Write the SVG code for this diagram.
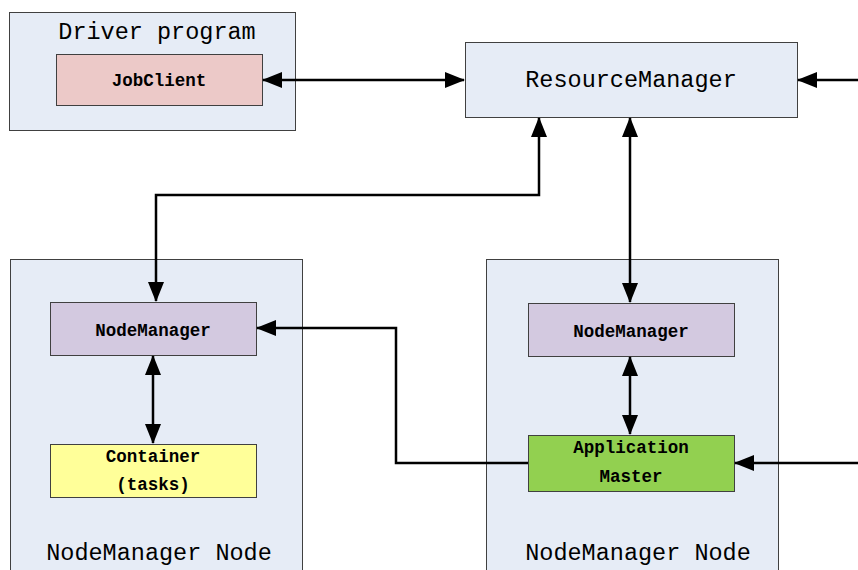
<svg xmlns="http://www.w3.org/2000/svg" width="858" height="570" viewBox="0 0 858 570">
<style>
.box{stroke:#404040;stroke-width:1}
.outer{fill:#e6ecf6}
.t{font-family:"Liberation Mono","Courier New",Courier,"Nimbus Mono PS",monospace;fill:#000;text-anchor:middle}
.big{font-size:23.5px}
.small{font-size:17.5px;font-weight:bold}
.c{fill:none;stroke:#000;stroke-width:2.5}
</style>
<defs>
<marker id="ah" viewBox="0 0 20 16" refX="19" refY="8" markerWidth="20" markerHeight="16" markerUnits="userSpaceOnUse" orient="auto-start-reverse">
<path d="M0,0 L20,8 L0,16 Z" fill="#000"/>
</marker>
</defs>
<rect width="858" height="570" fill="#fff"/>
<g id="driver">
<rect class="box outer" x="9.5" y="12.5" width="286" height="118"/>
<text class="t big" x="157" y="39">Driver program</text>
</g>
<g id="jobclient">
<rect class="box" fill="#ecc9c8" x="56.5" y="54.5" width="206" height="51"/>
<text class="t small" x="159" y="86">JobClient</text>
</g>
<g id="resourcemanager">
<rect class="box outer" x="465.5" y="42.5" width="332" height="75"/>
<text class="t big" x="631" y="87">ResourceManager</text>
</g>
<g id="nmnode-left">
<rect class="box outer" x="10.5" y="259.5" width="292" height="320"/>
<text class="t big" x="159" y="560">NodeManager Node</text>
</g>
<g id="nmnode-right">
<rect class="box outer" x="486.5" y="259.5" width="292" height="320"/>
<text class="t big" x="638" y="560">NodeManager Node</text>
</g>
<g id="nodemanager-left">
<rect class="box" fill="#d3c9e0" x="50.5" y="302.5" width="206" height="53"/>
<text class="t small" x="153" y="336">NodeManager</text>
</g>
<g id="container">
<rect class="box" fill="#ffff99" x="50.5" y="444.5" width="206" height="53"/>
<text class="t small" x="153" y="462">Container</text>
<text class="t small" x="153" y="490">(tasks)</text>
</g>
<g id="nodemanager-right">
<rect class="box" fill="#d3c9e0" x="528.5" y="303.5" width="206" height="53"/>
<text class="t small" x="631" y="337">NodeManager</text>
</g>
<g id="appmaster">
<rect class="box" fill="#92d050" x="528.5" y="435.5" width="206" height="56"/>
<text class="t small" x="631" y="453">Application</text>
<text class="t small" x="631" y="482">Master</text>
</g>
<g id="connectors">
<path class="c" d="M263,80 H464" marker-start="url(#ah)" marker-end="url(#ah)"/>
<path class="c" d="M858,80 H798" marker-end="url(#ah)"/>
<path class="c" d="M539,118 V195 H156 V301" marker-start="url(#ah)" marker-end="url(#ah)"/>
<path class="c" d="M630,118 V302" marker-start="url(#ah)" marker-end="url(#ah)"/>
<path class="c" d="M153,356 V443" marker-start="url(#ah)" marker-end="url(#ah)"/>
<path class="c" d="M630,357 V434" marker-start="url(#ah)" marker-end="url(#ah)"/>
<path class="c" d="M528,463 H396 V328 H257" marker-end="url(#ah)"/>
<path class="c" d="M858,463 H735" marker-end="url(#ah)"/>
</g>
</svg>
